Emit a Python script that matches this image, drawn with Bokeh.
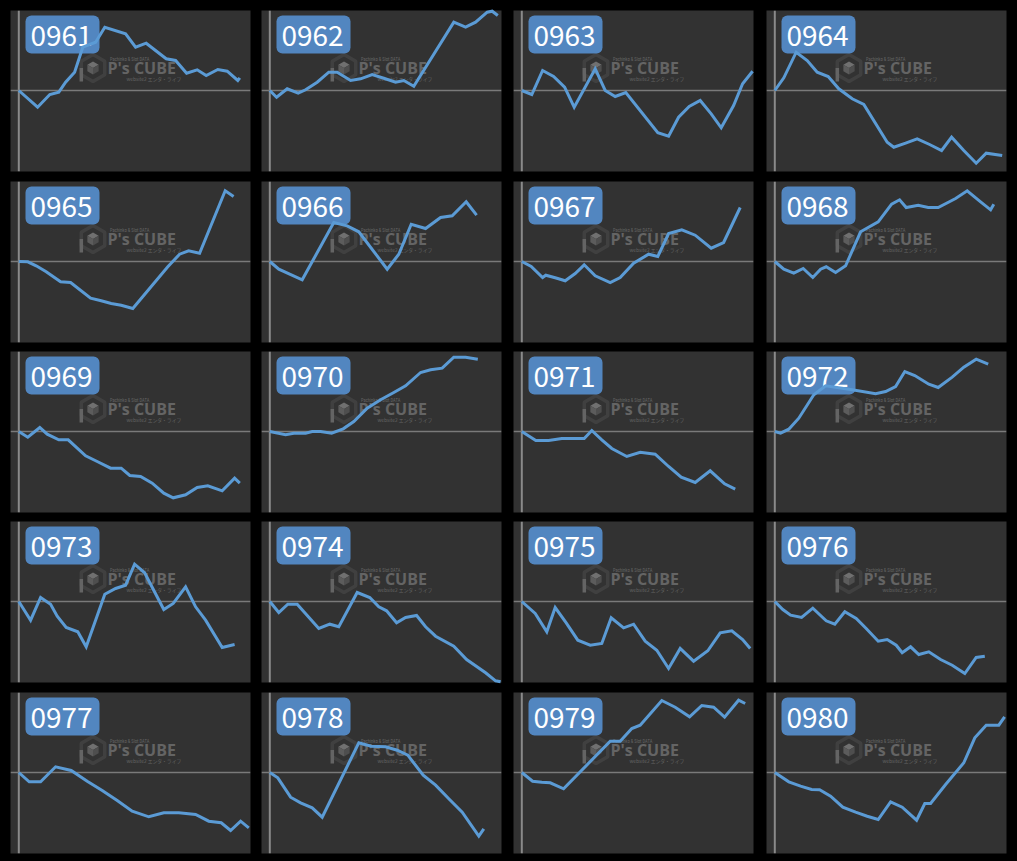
import math
from bokeh.plotting import figure
from bokeh.layouts import column, row
from bokeh.models import Range1d, Span, BoxAnnotation, Label, PolyAnnotation
from bokeh.embed import file_html
from bokeh.resources import INLINE

# ---------------- data (games played vs. coin difference) ----------------
machines = ["0961", "0962", "0963", "0964", "0965", "0966", "0967", "0968", "0969", "0970",
            "0971", "0972", "0973", "0974", "0975", "0976", "0977", "0978", "0979", "0980"]

games_0961 = [0, 940, 1550, 2000, 2340, 2790, 3200, 3840, 4300, 5340, 5840, 6370, 7370, 7840, 8390, 8920, 9370, 9950, 10420, 10950, 11050]
diff_0961 = [0, -1670, -400, -170, 830, 1830, 4330, 4830, 6330, 5670, 4330, 4730, 3170, 3000, 1730, 2070, 1500, 2100, 1930, 1000, 1270]

games_0962 = [0, 340, 870, 1420, 1790, 2370, 2950, 3370, 4040, 4540, 5120, 5700, 6290, 6700, 7200, 9200, 9790, 10290, 10870, 11120, 11400]
diff_0962 = [0, -670, 170, -270, 70, 830, 1830, 1830, 1000, 1170, 1600, 1230, 830, 1000, 430, 6830, 6330, 6830, 7830, 7930, 7500]

games_0963 = [0, 500, 1040, 1590, 2140, 2620, 3670, 4170, 4670, 5200, 6800, 7340, 7840, 8370, 8920, 9470, 9970, 10590, 11040, 11540]
diff_0963 = [0, -400, 2000, 1400, 330, -1670, 2170, 0, -600, -200, -4230, -4570, -2670, -1600, -1000, -2330, -3730, -1500, 670, 1930]

games_0964 = [0, 450, 1070, 1620, 2120, 2670, 3200, 3870, 4450, 5620, 5950, 6540, 7120, 7740, 8340, 8840, 9450, 10070, 10570, 11370]
diff_0964 = [0, 1270, 3830, 3000, 1830, 1400, 170, -830, -1400, -5170, -5670, -5270, -4830, -5400, -6000, -4670, -6000, -7270, -6270, -6500]

games_0965 = [0, 450, 870, 1370, 2090, 2590, 3590, 4120, 4620, 5120, 5700, 6790, 7450, 8040, 8490, 9040, 10320, 10740]
diff_0965 = [0, -30, -430, -1030, -2030, -2100, -3670, -3930, -4200, -4370, -4700, -2100, -530, 730, 1070, 830, 7070, 6500]

games_0966 = [0, 450, 1620, 3200, 3870, 4450, 5870, 6450, 7070, 7790, 8540, 9120, 9820, 10340]
diff_0966 = [0, -770, -1830, 3900, 3570, 2970, -770, 730, 3730, 3300, 4400, 4570, 5970, 4630]

games_0967 = [0, 470, 1040, 1200, 1670, 2170, 2670, 3120, 3670, 4420, 4920, 5590, 6340, 6800, 7340, 8000, 8670, 9470, 10090, 10920]
diff_0967 = [0, -500, -1600, -1370, -1630, -1930, -1200, -330, -1430, -2100, -1600, -170, 730, 500, 2800, 3170, 2630, 1330, 1900, 5400]

games_0968 = [0, 450, 950, 1420, 1900, 2290, 2570, 3040, 3540, 4290, 5170, 5840, 6240, 6570, 7170, 7670, 8170, 9040, 9620, 10290, 10790, 10950]
diff_0968 = [0, -770, -1170, -700, -1600, -770, -530, -1100, -430, 2970, 3970, 5730, 6170, 5400, 5630, 5400, 5400, 6300, 7070, 5970, 5170, 5730]

games_0969 = [0, 450, 1050, 1420, 2000, 2470, 3340, 3920, 4590, 5120, 5550, 6090, 6670, 7250, 7720, 8340, 8920, 9450, 10170, 10790, 11050]
diff_0969 = [0, -570, 400, -270, -830, -830, -2430, -3000, -3670, -3670, -4400, -4500, -5170, -6170, -6630, -6330, -5600, -5430, -5930, -4670, -5170]

games_0970 = [0, 790, 1200, 1790, 2120, 2540, 3090, 3670, 4200, 4870, 5540, 6200, 6790, 7540, 8040, 8620, 9200, 9790, 10400]
diff_0970 = [0, -330, -170, -170, 0, 0, -170, 270, 1000, 2330, 3170, 3900, 4570, 5900, 6170, 6330, 7430, 7430, 7230]

games_0971 = [0, 700, 1340, 2000, 2590, 3120, 3500, 4000, 4500, 5250, 5920, 6670, 7340, 7970, 8670, 9420, 10140, 10670]
diff_0971 = [0, -900, -900, -700, -700, -700, 100, -830, -1700, -2500, -2070, -2270, -3500, -4570, -5100, -3930, -5230, -5770]

games_0972 = [0, 290, 700, 1200, 1950, 2540, 3870, 5040, 5540, 6040, 6500, 7000, 7700, 8170, 8870, 9450, 10070, 10670]
diff_0972 = [0, -170, 230, 1330, 3670, 4570, 4170, 3770, 4000, 4500, 6000, 5600, 4730, 4400, 5430, 6430, 7230, 6730]

games_0973 = [0, 590, 1090, 1590, 1920, 2370, 2950, 3370, 4300, 4840, 5340, 5790, 6290, 7250, 7720, 8340, 8840, 9340, 10170, 10790]
diff_0973 = [0, -1870, 400, -270, -1470, -2600, -3030, -4530, 730, 1300, 1630, 3730, 2870, -800, -200, 1470, -530, -1870, -4600, -4300]

games_0974 = [0, 450, 900, 1370, 2450, 3000, 3450, 4370, 5000, 5450, 5840, 6340, 6790, 7340, 7790, 8290, 9200, 9840, 10790, 11290, 11540]
diff_0974 = [0, -1100, -270, -270, -2700, -2270, -2530, 900, 400, -530, -930, -2130, -1600, -1400, -2530, -3470, -4470, -5800, -7130, -7930, -8030]

games_0975 = [0, 670, 1250, 1670, 2220, 2800, 3420, 4000, 4470, 5090, 5590, 6170, 6750, 7340, 7920, 8590, 9300, 9920, 10500, 11040, 11420]
diff_0975 = [0, -1200, -3030, -600, -2130, -3870, -4370, -4200, -1630, -2630, -2270, -3970, -4870, -6700, -4700, -5970, -4930, -3130, -2930, -3800, -4700]

games_0976 = [0, 400, 790, 1340, 1900, 2570, 3000, 3500, 4070, 4570, 5170, 5620, 6070, 6370, 6790, 7200, 7700, 8290, 8870, 9500, 10070, 10500]
diff_0976 = [0, -800, -1370, -1600, -670, -1930, -2270, -1030, -1700, -2700, -3970, -3800, -4370, -5130, -4530, -5300, -5030, -5800, -6370, -7200, -5600, -5470]

games_0977 = [0, 520, 1090, 1840, 2620, 3420, 4170, 4920, 5670, 6500, 7250, 8000, 8840, 9500, 10120, 10590, 11090, 11500]
diff_0977 = [0, -930, -930, 570, 200, -870, -1800, -2800, -3870, -4430, -4030, -4030, -4200, -4870, -5030, -5800, -4870, -5530]

games_0978 = [0, 400, 1040, 1540, 2120, 2620, 4450, 5070, 5790, 6370, 6900, 7670, 8290, 8950, 9620, 10450, 10700]
diff_0978 = [0, -530, -2470, -3030, -3530, -4470, 2970, 2630, 2570, 2230, 1730, -270, -1270, -2630, -3970, -6370, -5630]

games_0979 = [0, 540, 1000, 1420, 2090, 4420, 4920, 5500, 5920, 7000, 7670, 8390, 9000, 9590, 10140, 10840, 11170]
diff_0979 = [0, -870, -970, -1030, -1630, 3130, 3130, 4400, 4730, 7200, 6530, 5570, 6700, 6530, 5530, 7230, 6900]

games_0980 = [0, 700, 1290, 1840, 2240, 2790, 3400, 4040, 4620, 5170, 5790, 6370, 7090, 7500, 7790, 8540, 9450, 10000, 10570, 11200, 11490]
diff_0980 = [0, -930, -1370, -1700, -1730, -2370, -3470, -3970, -4370, -4700, -2930, -3470, -4770, -3100, -3100, -1200, 970, 3470, 4730, 4730, 5570]

series = {
    "0961": (games_0961, diff_0961), "0962": (games_0962, diff_0962),
    "0963": (games_0963, diff_0963), "0964": (games_0964, diff_0964),
    "0965": (games_0965, diff_0965), "0966": (games_0966, diff_0966),
    "0967": (games_0967, diff_0967), "0968": (games_0968, diff_0968),
    "0969": (games_0969, diff_0969), "0970": (games_0970, diff_0970),
    "0971": (games_0971, diff_0971), "0972": (games_0972, diff_0972),
    "0973": (games_0973, diff_0973), "0974": (games_0974, diff_0974),
    "0975": (games_0975, diff_0975), "0976": (games_0976, diff_0976),
    "0977": (games_0977, diff_0977), "0978": (games_0978, diff_0978),
    "0979": (games_0979, diff_0979), "0980": (games_0980, diff_0980),
}

# ---------------- layout / style ----------------
X_RANGE = (-415, 11585)
Y_RANGE = (-8100, 8000)
FRAME_W, FRAME_H = 240, 161
COL_W = [251, 252, 253, 261]
ROW_H = [176, 170, 170, 171, 174]
ROW_TOP = [10, 5, 5, 5, 5]
PANEL_BG = "#323232"
LINE_COLOR = "#5b9bd5"
TAG_COLOR = "#5286c0"
WM_COLOR = "#646464"
NCOLS = 4


def hexagon(cx, cy, r):
    xs, ys = [], []
    for k in range(6):
        a = math.radians(90 + 60 * k)
        xs.append(cx + r * math.cos(a))
        ys.append(cy + r * math.sin(a))
    return xs, ys


def add_watermark(p):
    cx, cy = 82.5, FRAME_H - 57.5
    R = 13.5
    hx, hy = hexagon(cx, cy, R)
    p.add_layout(PolyAnnotation(xs=hx, ys=hy, xs_units="screen", ys_units="screen",
                                fill_color=None, line_color=WM_COLOR, line_width=3.5))
    # stem of the "P" hexagon
    c30 = math.cos(math.radians(30))
    p.add_layout(PolyAnnotation(xs=[cx - c30 * R - 1.75, cx - c30 * R + 1.75,
                                    cx - c30 * R + 1.75, cx - c30 * R - 1.75],
                                ys=[cy, cy, cy - R, cy - R],
                                xs_units="screen", ys_units="screen",
                                fill_color=WM_COLOR, fill_alpha=1.0, line_color=None))
    r = 6.5
    faces = [
        ([cx, cx + c30 * r, cx, cx - c30 * r], [cy + r, cy + r / 2, cy, cy + r / 2], "#707070"),
        ([cx - c30 * r, cx, cx, cx - c30 * r], [cy + r / 2, cy, cy - r, cy - r / 2], "#5c5c5c"),
        ([cx + c30 * r, cx, cx, cx + c30 * r], [cy + r / 2, cy, cy - r, cy - r / 2], "#4e4e4e"),
    ]
    for fx, fy, fc in faces:
        p.add_layout(PolyAnnotation(xs=fx, ys=fy, xs_units="screen", ys_units="screen",
                                    fill_color=fc, fill_alpha=1.0, line_color=None))
    p.add_layout(Label(x=99.5, y=FRAME_H - 51, x_units="screen", y_units="screen",
                       text="Pachinko & Slot DATA", text_font="Roboto Condensed, Roboto",
                       text_font_size="4.6px", text_color=WM_COLOR))
    p.add_layout(Label(x=97, y=FRAME_H - 68, x_units="screen", y_units="screen",
                       text="P's CUBE", text_font="Open Sans", text_font_style="bold",
                       text_font_size="16px", text_color=WM_COLOR))
    p.add_layout(Label(x=116, y=FRAME_H - 71.5, x_units="screen", y_units="screen",
                       text="website2 エンタ・ライフ", text_font="Noto Sans CJK JP",
                       text_font_size="4.8px", text_color=WM_COLOR))


figs = []
for i, name in enumerate(machines):
    r_i, c_i = divmod(i, NCOLS)
    w, h = COL_W[c_i], ROW_H[r_i]
    top = ROW_TOP[r_i]
    p = figure(width=w, height=h, title=None, toolbar_location=None,
               x_axis_location=None, y_axis_location=None,
               x_range=Range1d(*X_RANGE), y_range=Range1d(*Y_RANGE),
               output_backend="svg",
               min_border_left=10, min_border_right=w - 10 - FRAME_W,
               min_border_top=top, min_border_bottom=h - top - FRAME_H)
    p.background_fill_color = PANEL_BG
    p.border_fill_color = "#000000"
    p.outline_line_color = None
    p.grid.visible = False

    add_watermark(p)

    p.add_layout(Span(location=0, dimension="height", line_color="#8a8a8a", line_width=2))
    p.add_layout(Span(location=0, dimension="width", line_color="#7a7a7a", line_width=1.5))

    p.add_layout(BoxAnnotation(left=15, right=89, bottom=FRAME_H - 43, top=FRAME_H - 5,
                               left_units="screen", right_units="screen",
                               bottom_units="screen", top_units="screen",
                               fill_color=TAG_COLOR, fill_alpha=1.0, line_color=None,
                               border_radius=6))
    p.add_layout(Label(x=20, y=FRAME_H - 25, x_units="screen", y_units="screen",
                       text=name, text_font="Noto Sans CJK JP",
                       text_font_size="28px", text_color="#ffffff",
                       text_baseline="alphabetic"))

    gx, gy = series[name]
    p.line(gx, gy, line_color=LINE_COLOR, line_width=3, line_join="miter", level="overlay")
    figs.append(p)

rows = [row(*figs[k:k + NCOLS]) for k in range(0, len(figs), NCOLS)]
root = column(*rows)

tpl = ("{% block postamble %}<style>html, body { background: #000000 !important; "
       "margin: 0 !important; padding: 0; overflow: hidden; }</style>{% endblock %}")
open("out.html", "w").write(file_html(root, INLINE, title="P's CUBE", template=tpl))
